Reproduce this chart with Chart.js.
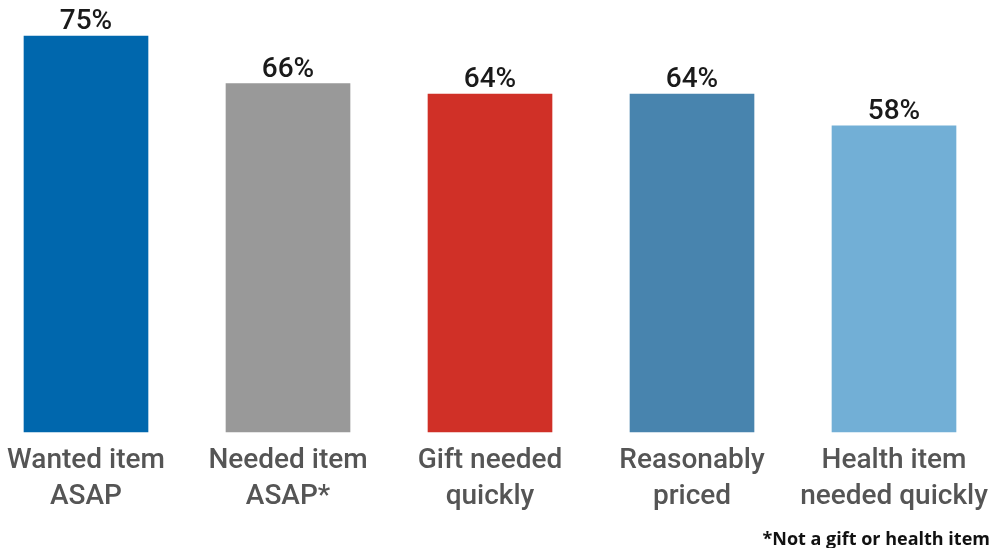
<!DOCTYPE html>
<html lang="en">
<head>
    <meta charset="UTF-8">
    <title>Reasons for fast shipping</title>
    <script src="https://cdn.jsdelivr.net/npm/chart.js"></script>
    <style>
        html, body { margin: 0; padding: 0; background: #fff; }
        #wrap { position: relative; width: 994px; height: 548px; }
        #note {
            position: absolute; right: 4px; bottom: -2px;
            font: bold 18px "Open Sans", sans-serif; color: #111;
        }
    </style>
</head>
<body>

<div id="wrap">
    <canvas id="shipChart" width="994" height="548"></canvas>
    <div id="note">*Not a gift or health item</div>
</div>

<script>
    // valeurs
    const categories = [
        ['Wanted item', 'ASAP'],
        ['Needed item', 'ASAP*'],
        ['Gift needed', 'quickly'],
        ['Reasonably', 'priced'],
        ['Health item', 'needed quickly']
    ];
    const shares = [75, 66, 64, 64, 58];
    const barColors = ['#0067ad', '#999999', '#d03027', '#4884ae', '#72afd6'];

    // pourcentages au-dessus des barres
    const valueLabels = {
        id: 'valueLabels',
        afterDatasetsDraw(chart) {
            const ctx = chart.ctx;
            const meta = chart.getDatasetMeta(0);
            ctx.save();
            ctx.font = '500 28px Roboto';
            ctx.fillStyle = '#1a1a1a';
            ctx.textAlign = 'center';
            ctx.textBaseline = 'alphabetic';
            meta.data.forEach((bar, i) => {
                ctx.fillText(shares[i] + '%', bar.x, bar.y - 7);
            });
            ctx.restore();
        }
    };

    new Chart(document.getElementById('shipChart'), {
        type: 'bar',
        data: {
            labels: categories,
            datasets: [{
                data: shares,
                backgroundColor: barColors,
                barThickness: 124,
                clip: false
            }]
        },
        options: {
            responsive: false,
            animation: false,
            layout: { padding: { top: 36, left: 86, right: 100, bottom: 0 } },
            plugins: { legend: { display: false }, tooltip: { enabled: false } },
            scales: {
                x: {
                    offset: false,
                    grid: { display: false, drawTicks: false },
                    border: { display: false },
                    ticks: {
                        autoSkip: false,
                        maxRotation: 0,
                        padding: 11,
                        color: '#555555',
                        font: { family: 'Roboto', weight: 500, size: 28, lineHeight: 1.29 }
                    },
                    afterFit(scale) {
                        scale.height = 116;
                        // les étiquettes débordent, on garde la marge fixée plus haut
                        scale.paddingLeft = 0;
                        scale.paddingRight = 0;
                    }
                },
                y: { display: false, min: 0, max: 75 }
            }
        },
        plugins: [valueLabels]
    });
</script>

</body>
</html>
